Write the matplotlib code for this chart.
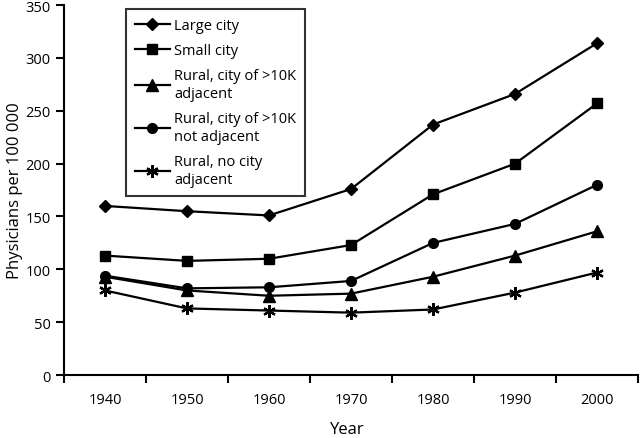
import matplotlib
matplotlib.use("Agg")
import matplotlib.pyplot as plt

years = ["1940", "1950", "1960", "1970", "1980", "1990", "2000"]
large_city = [160, 155, 151, 176, 237, 266, 314]
small_city = [113, 108, 110, 123, 171, 200, 257]
rural_adjacent = [93, 80, 75, 77, 93, 113, 136]
rural_not_adjacent = [94, 82, 83, 89, 125, 143, 180]
rural_no_city = [80, 63, 61, 59, 62, 78, 97]

series = [
    ("Large city", large_city, "D", 6),
    ("Small city", small_city, "s", 7),
    ("Rural, city of >10K\nadjacent", rural_adjacent, "^", 8),
    ("Rural, city of >10K\nnot adjacent", rural_not_adjacent, "o", 7),
    ("Rural, no city\nadjacent", rural_no_city, (6, 2, 0), 9),
]

plt.rcParams['font.family'] = ['Open Sans', 'DejaVu Sans']
fig = plt.figure(figsize=(6.4, 4.39), dpi=100)
ax = fig.add_axes([0.1, 0.1435, 0.897, 0.8425])

x = list(range(len(years)))
for label, vals, m, ms in series:
    kw = dict(markersize=ms, markerfacecolor='black', markeredgecolor='black')
    if m == (6, 2, 0):
        kw['markeredgewidth'] = 1.6
    ax.plot(x, vals, color='black', lw=1.6, marker=m, label=label, **kw)

ax.set_xlim(-0.5, 6.5)
ax.set_ylim(0, 350)
ax.set_yticks(range(0, 351, 50))
ax.set_xticks(x)
ax.set_xticklabels(years)
ax.set_xticks([i + 0.5 for i in range(-1, 7)], minor=True)
ax.tick_params(axis='x', which='major', length=0, pad=12, labelsize=10.5)
ax.tick_params(axis='x', which='minor', length=6, width=1.5, direction='out')
ax.tick_params(axis='y', length=6, width=1.5, direction='out', labelsize=10.5)
for s in ['top', 'right']:
    ax.spines[s].set_visible(False)
for s in ['left', 'bottom']:
    ax.spines[s].set_linewidth(1.5)
ax.set_ylabel("Physicians per 100 000", fontsize=12)
ax.yaxis.set_label_coords(-0.072, 0.5)
ax.set_xlabel("Year", fontsize=12)
ax.xaxis.set_label_coords(0.493, -0.125)

leg = ax.legend(loc='upper left', bbox_to_anchor=(0.108, 0.989), frameon=True,
                fancybox=False, edgecolor='black', fontsize=10.5, handlelength=2.4,
                labelspacing=0.7, borderpad=0.6, handletextpad=0.3,
                borderaxespad=0)
leg.get_frame().set_linewidth(1.5)
for t in leg.get_texts():
    t.set_linespacing(1.25)

fig.savefig("out.png", dpi=100)
